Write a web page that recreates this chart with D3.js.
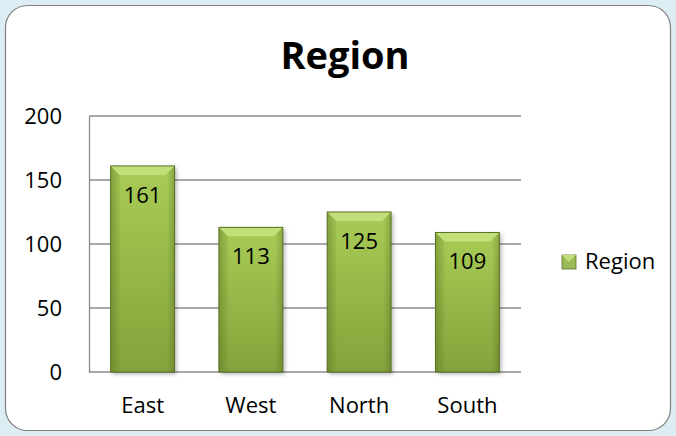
<!DOCTYPE html>
<html>
<head>
<meta charset="utf-8">
<script src="https://cdn.jsdelivr.net/npm/d3@7"></script>
<style>
  html, body { margin: 0; padding: 0; background: #dcedf3; }
  svg { display: block; }
  text { font-family: "Open Sans", Lato, sans-serif; fill: #000; }
</style>
</head>
<body>
<svg></svg>
<script>
// данные
const categories = ["East", "West", "North", "South"];
const values = [161, 113, 125, 109];
const yTicks = [0, 50, 100, 150, 200];
const seriesName = "Region";

document.addEventListener("DOMContentLoaded", function() {
    const width = 676;
    const height = 436;
    const svg = d3.select("svg")
        .attr("width", width)
        .attr("height", height);

    const defs = svg.append("defs");

    // градиенты для столбиков
    const vGrad = defs.append("linearGradient")
        .attr("id", "barV").attr("x1", 0).attr("y1", 0).attr("x2", 0).attr("y2", 1);
    vGrad.append("stop").attr("offset", "0%").attr("stop-color", "#a9cc56");
    vGrad.append("stop").attr("offset", "100%").attr("stop-color", "#84a33b");

    const hGrad = defs.append("linearGradient")
        .attr("id", "barH").attr("x1", 0).attr("y1", 0).attr("x2", 1).attr("y2", 0);
    hGrad.append("stop").attr("offset", "0%").attr("stop-color", "#3f5515").attr("stop-opacity", 0.3);
    hGrad.append("stop").attr("offset", "12%").attr("stop-color", "#3f5515").attr("stop-opacity", 0);
    hGrad.append("stop").attr("offset", "88%").attr("stop-color", "#3f5515").attr("stop-opacity", 0);
    hGrad.append("stop").attr("offset", "100%").attr("stop-color", "#3f5515").attr("stop-opacity", 0.3);

    const shadow = defs.append("filter").attr("id", "shadow")
        .attr("x", "-20%").attr("y", "-10%").attr("width", "150%").attr("height", "130%");
    shadow.append("feDropShadow")
        .attr("dx", 2).attr("dy", 2).attr("stdDeviation", 2)
        .attr("flood-color", "#000").attr("flood-opacity", 0.3);

    // карточка
    svg.append("rect")
        .attr("x", 5.5).attr("y", 5.5)
        .attr("width", 665).attr("height", 425)
        .attr("rx", 22).attr("ry", 22)
        .attr("fill", "#fff")
        .attr("stroke", "#7f7f7f")
        .attr("stroke-width", 1.2);

    // заголовок
    svg.append("text")
        .attr("x", 345).attr("y", 69)
        .attr("text-anchor", "middle")
        .style("font-size", "38px")
        .style("font-weight", "bold")
        .text(seriesName);

    const margin = {left: 89, right: 521, top: 116, bottom: 372};

    const x = d3.scaleBand()
        .domain(categories)
        .range([margin.left, margin.right])
        .paddingInner(0.41)
        .paddingOuter(0.2);

    const y = d3.scaleLinear()
        .domain([0, 200])
        .range([margin.bottom, margin.top]);

    // сетка
    svg.append("g")
        .selectAll("line")
        .data(yTicks)
        .join("line")
        .attr("x1", margin.left).attr("x2", margin.right)
        .attr("y1", d => y(d)).attr("y2", d => y(d))
        .attr("stroke", "#8c8c8c")
        .attr("stroke-width", 1.3);

    // ось Y
    const yAxis = svg.append("g")
        .attr("transform", `translate(${margin.left},0)`)
        .call(d3.axisLeft(y).tickValues(yTicks).tickSize(0).tickPadding(27));
    yAxis.select(".domain").attr("stroke", "#8c8c8c").attr("stroke-width", 1.3);
    yAxis.selectAll("text")
        .style("font-size", "22px")
        .style("font-family", "\"Open Sans\", Lato, sans-serif");

    // ось X
    const xAxis = svg.append("g")
        .attr("transform", `translate(0,${margin.bottom})`)
        .call(d3.axisBottom(x).tickSize(0).tickPadding(25));
    xAxis.select(".domain").remove();
    xAxis.selectAll("text")
        .style("font-size", "22px")
        .style("font-family", "\"Open Sans\", Lato, sans-serif");

    // столбики
    const bars = svg.append("g")
        .selectAll("g")
        .data(values)
        .join("g")
        .attr("transform", (d, i) => `translate(${x(categories[i])},${y(d)})`);

    const bw = x.bandwidth();
    const bevel = 9;

    bars.append("rect")
        .attr("width", bw)
        .attr("height", d => y(0) - y(d))
        .attr("fill", "url(#barV)")
        .attr("filter", "url(#shadow)");

    bars.append("rect")
        .attr("width", bw)
        .attr("height", d => y(0) - y(d))
        .attr("fill", "url(#barH)");

    bars.append("path")
        .attr("d", `M0,0 L${bw},0 L${bw - bevel},${bevel} L${bevel},${bevel} Z`)
        .attr("fill", "#c2df7a");

    bars.append("path")
        .attr("d", d => `M0,0 L${bevel},${bevel} L${bevel},${y(0) - y(d)} L0,${y(0) - y(d)} Z`)
        .attr("fill", "#6f8d2c")
        .attr("opacity", 0.2);

    bars.append("rect")
        .attr("width", bw)
        .attr("height", d => y(0) - y(d))
        .attr("fill", "none")
        .attr("stroke", "#5a7024")
        .attr("stroke-width", 1);

    bars.append("text")
        .attr("x", bw / 2)
        .attr("y", 37)
        .attr("text-anchor", "middle")
        .style("font-size", "22px")
        .text(d => d);

    // легенда
    const legend = svg.append("g").attr("transform", "translate(562,255)");
    legend.append("rect")
        .attr("width", 14).attr("height", 14)
        .attr("fill", "#9bbb59")
        .attr("stroke", "#5a7024")
        .attr("stroke-width", 0.8);
    legend.append("path")
        .attr("d", "M0,0 L14,0 L7,7 Z")
        .attr("fill", "#c2df7a");
    legend.append("text")
        .attr("x", 23).attr("y", 14)
        .style("font-size", "22px")
        .text(seriesName);
});
</script>
</body>
</html>
